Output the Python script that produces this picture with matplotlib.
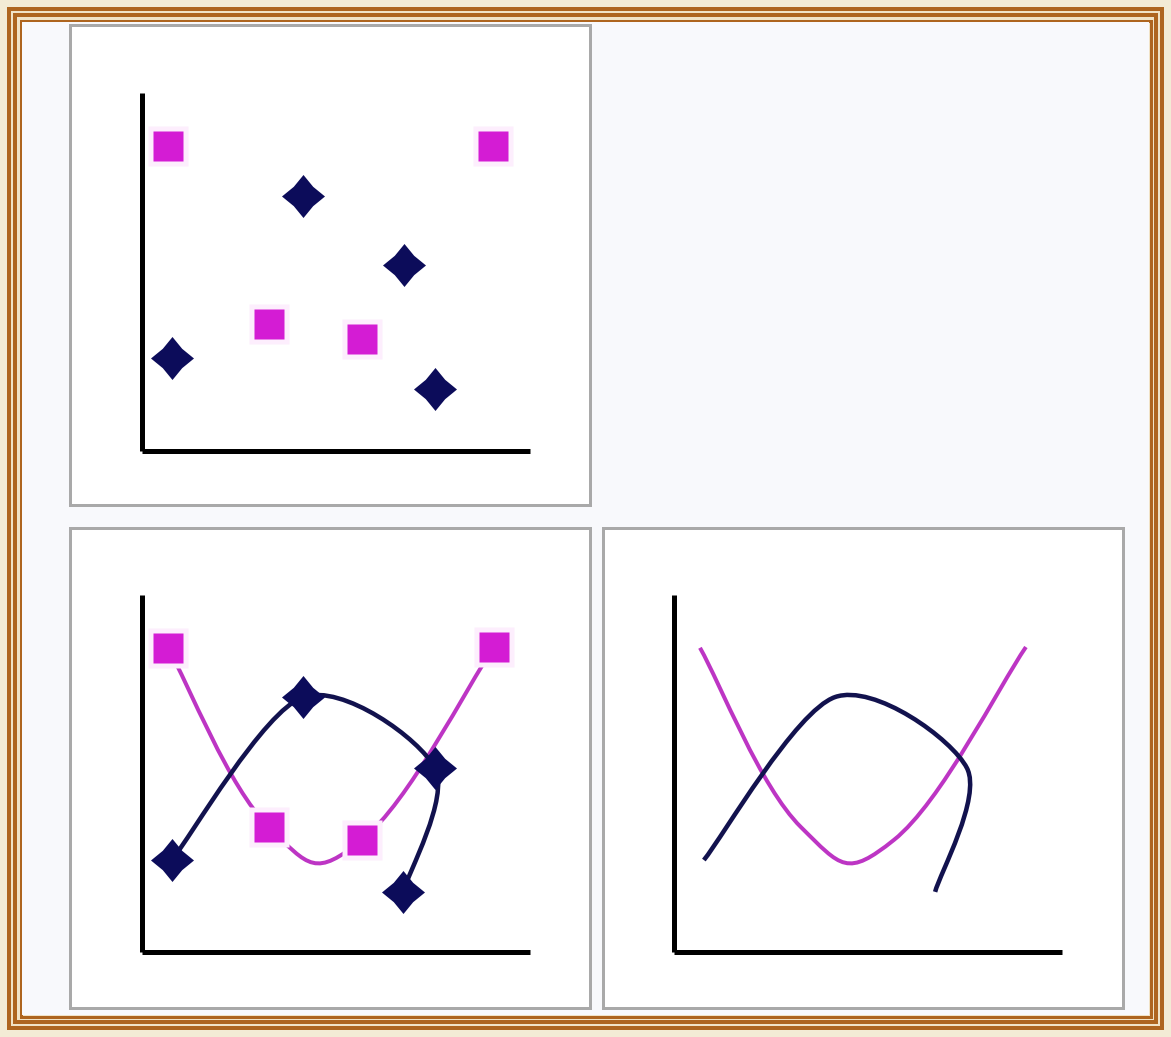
import numpy as np
import matplotlib
matplotlib.use("Agg")
import matplotlib.pyplot as plt
from matplotlib.patches import Rectangle, PathPatch
from matplotlib.path import Path

# ---------------- data (axis units) ----------------
# Panel 1: scatter with markers only
sq_x_top = [0.67, 3.27, 5.67, 9.05]
sq_y_top = [7.86, 3.27, 2.89, 7.86]
dm_x_top = [0.77, 4.15, 6.75, 7.55]
dm_y_top = [2.40, 6.57, 4.79, 1.60]

# Panels 2 & 3: smoothed lines (with / without markers)
sq_x = [0.67, 3.27, 5.67, 9.07]
sq_y = [7.84, 3.22, 2.89, 7.86]
dm_x = [0.77, 4.15, 7.55, 6.73]
dm_y = [2.37, 6.57, 4.74, 1.55]

W, H = 1171, 1037
PT = 0.72  # points per pixel at dpi 100

MAG_MARK = "#d41cd4"
MAG_LINE = "#bd35c4"
NAVY = "#0c0c5a"
NAVY_LINE = "#12124e"
BROWN = "#ae651f"

fig = plt.figure(figsize=(W / 100, H / 100), dpi=100)
bg = fig.add_axes([0, 0, 1, 1])
bg.set_xlim(0, W)
bg.set_ylim(H, 0)
bg.axis("off")

# outer frame
bg.add_patch(Rectangle((0, 0), W, H, facecolor="#f3ebd5", edgecolor="none"))
bg.add_patch(Rectangle((7, 7), W - 14, H - 14, facecolor="#f1e3c6", edgecolor="none"))
for c, lw in [(9, 4), (15, 4), (20.5, 3)]:
    bg.add_patch(Rectangle((c, c), W - 2 * c, H - 2 * c, facecolor="none",
                           edgecolor=BROWN, lw=lw * PT))
bg.add_patch(Rectangle((22, 22), W - 44, H - 44, facecolor="#f8f9fc", edgecolor="none"))

# panel boxes
for (x0, y0) in [(70, 25), (70, 528), (603, 528)]:
    bg.add_patch(Rectangle((x0, y0), 520, 480, facecolor="white",
                           edgecolor="#a9a9a9", lw=3 * PT))

UNIT = 38.8  # pixels per axis unit


def make_axes(ox, oy, top):
    w = 388
    h = oy - top
    ax = fig.add_axes([ox / W, 1 - oy / H, w / W, h / H])
    ax.set_xlim(0, w / UNIT)
    ax.set_ylim(0, h / UNIT)
    ax.patch.set_visible(False)
    for s in ["top", "right"]:
        ax.spines[s].set_visible(False)
    for s in ["left", "bottom"]:
        ax.spines[s].set_linewidth(5 * PT)
        ax.spines[s].set_color("black")
        ax.spines[s].set_capstyle("butt")
    ax.set_xticks([])
    ax.set_yticks([])
    return ax


def smooth_path(xs, ys, k=0.18):
    pts = np.column_stack([xs, ys]).astype(float)
    n = len(pts)
    verts = [pts[0]]
    codes = [Path.MOVETO]
    for i in range(n - 1):
        p0 = pts[i - 1] if i > 0 else pts[i]
        p1 = pts[i]
        p2 = pts[i + 1]
        p3 = pts[i + 2] if i + 2 < n else pts[i + 1]
        c1 = p1 + (p2 - p0) * k
        c2 = p2 - (p3 - p1) * k
        verts += [c1, c2, p2]
        codes += [Path.CURVE4] * 3
    return Path(verts, codes)


# star-like diamond marker
r = 0.45
star = Path([(0, 1), (r, r), (1, 0), (r, -r), (0, -1), (-r, -r), (-1, 0), (-r, r), (0, 1)],
            [Path.MOVETO] + [Path.LINETO] * 7 + [Path.CLOSEPOLY])


def draw_markers(ax, sx, sy, dx, dy):
    ax.plot(sx, sy, ls="none", marker="s", ms=40 * PT, mfc="#fdeefd", mec="none",
            clip_on=False, zorder=3)
    ax.plot(sx, sy, ls="none", marker="s", ms=30 * PT, mfc=MAG_MARK, mec="none",
            clip_on=False, zorder=4)
    ax.plot(dx, dy, ls="none", marker=star, ms=43 * PT, mfc=NAVY, mec="none",
            clip_on=False, zorder=4)


def draw_lines(ax, sx, sy, dx, dy):
    ax.add_patch(PathPatch(smooth_path(sx, sy, 0.21), facecolor="none", edgecolor=MAG_LINE,
                           lw=4 * PT, transform=ax.transData, clip_on=False, zorder=2))
    ax.add_patch(PathPatch(smooth_path(dx, dy, 0.15), facecolor="none", edgecolor=NAVY_LINE,
                           lw=4.5 * PT, transform=ax.transData, clip_on=False, zorder=2))


# Panel 1: markers only
ax1 = make_axes(142, 451, 93)
draw_markers(ax1, sq_x_top, sq_y_top, dm_x_top, dm_y_top)

# Panel 2: smoothed lines with markers
ax2 = make_axes(142, 952, 595)
draw_lines(ax2, sq_x, sq_y, dm_x, dm_y)
draw_markers(ax2, sq_x, sq_y, dm_x, dm_y)

# Panel 3: smoothed lines without markers
ax3 = make_axes(674, 952, 595)
draw_lines(ax3, sq_x, sq_y, dm_x, dm_y)

fig.savefig("out.png", dpi=100)
